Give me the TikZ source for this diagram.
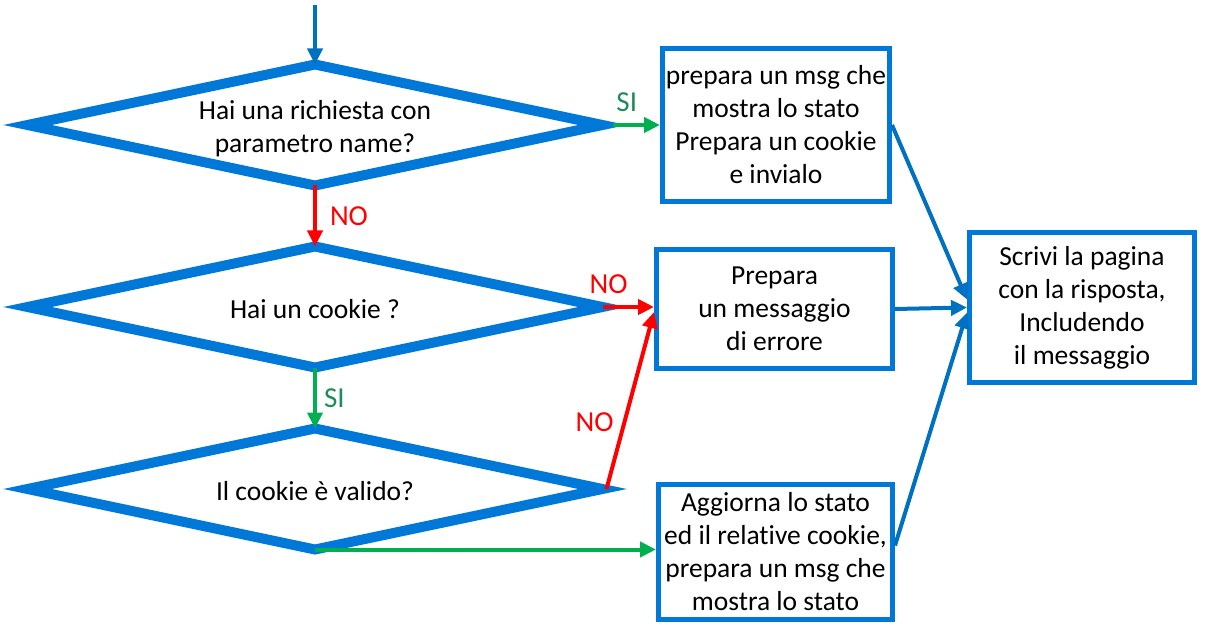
\documentclass[tikz,border=0pt]{standalone}
\usepackage{fontspec}
\setmainfont{Carlito}[Ligatures=NoCommon]
\usetikzlibrary{shapes.geometric,arrows.meta,calc}
\definecolor{dblue}{RGB}{0,120,215}
\definecolor{cblue}{RGB}{0,112,192}
\definecolor{cred}{RGB}{255,0,0}
\definecolor{cgreen}{RGB}{0,176,80}
\definecolor{lgreen}{RGB}{30,140,90}
\begin{document}
\begin{tikzpicture}[x=1pt,y=-1pt,
  txt/.style={font=\fontsize{27.5}{33}\selectfont},
  dec/.style={diamond, draw=dblue, line width=10pt, fill=white, minimum width=575pt,
    minimum height=121pt, aspect=4.8, inner sep=0pt, outer sep=0pt},
  dtext/.style={align=center, inner sep=0pt, txt},
  box/.style={rectangle, draw=dblue, line width=5pt, fill=white, align=center,
    inner sep=0pt, txt},
  arr/.style={line width=4pt, -{Triangle[length=16pt,width=15pt]}},
  lbl/.style={font=\fontsize{29}{32}\selectfont, inner sep=1pt}]
\useasboundingbox (0,0) rectangle (1205,631);
\node[dec] (d1) at (315,125) {};
\node[dtext] (t1) at (315,129) {Hai una richiesta con\\parametro name?};
\node[dec] (d2) at (315,307) {};
\node[dtext] (t2) at (315,309) {Hai un cookie ?};
\node[dec] (d3) at (315,489) {};
\node[dtext] (t3) at (315,491) {Il cookie è valido?};
\node[box, minimum width=227pt, minimum height=153pt] (b1) at (776,125)
  {prepara un msg che\\mostra lo stato\\Prepara un cookie\\e invialo};
\node[box, minimum width=236pt, minimum height=118pt] (b2) at (774.5,309)
  {Prepara\\un messaggio\\di errore};
\node[box, minimum width=225pt, minimum height=149pt] (b3) at (1082,307.5)
  {Scrivi la pagina\\con la risposta,\\Includendo\\il messaggio};
\node[box, minimum width=234pt, minimum height=135pt] (b4) at (775.5,551.5)
  {Aggiorna lo stato\\ed il relative cookie,\\prepara un msg che\\mostra lo stato};
\coordinate (top) at (315,5);
\draw[arr, cblue] (top) -- (d1.north);
\draw[arr, cgreen] ($(d1.east)+(10,0)$) -- node[lbl, above=10pt, pos=0.3, text=lgreen] {SI} (b1.west |- d1.east);
\draw[arr, cred] (d1.south) -- node[lbl, right=12pt, text=cred] {NO} (d2.north);
\draw[arr, cred] (d2.east) -- node[lbl, above=10pt, pos=0.12, text=cred] {NO} (b2.west |- d2.east);
\draw[arr, cgreen] (d2.south) -- node[lbl, right=6pt, text=lgreen] {SI} (d3.north);
\draw[arr, cred] ($(d3.east)+(4,0)$) -- node[lbl, left=8pt, pos=0.38, text=cred] {NO} ($(b2.west)+(0,3)$);
\draw[arr, cgreen] (d3.south) -- (d3.south -| b4.west);
\draw[arr, cblue] (b1.east) -- ($(b3.west)+(0,-8)$);
\draw[arr, cblue] (b2.east) -- (b3.west);
\draw[arr, cblue] ($(b4.east)+(0,-6)$) -- ($(b3.west)+(0,5)$);
\end{tikzpicture}
\end{document}
